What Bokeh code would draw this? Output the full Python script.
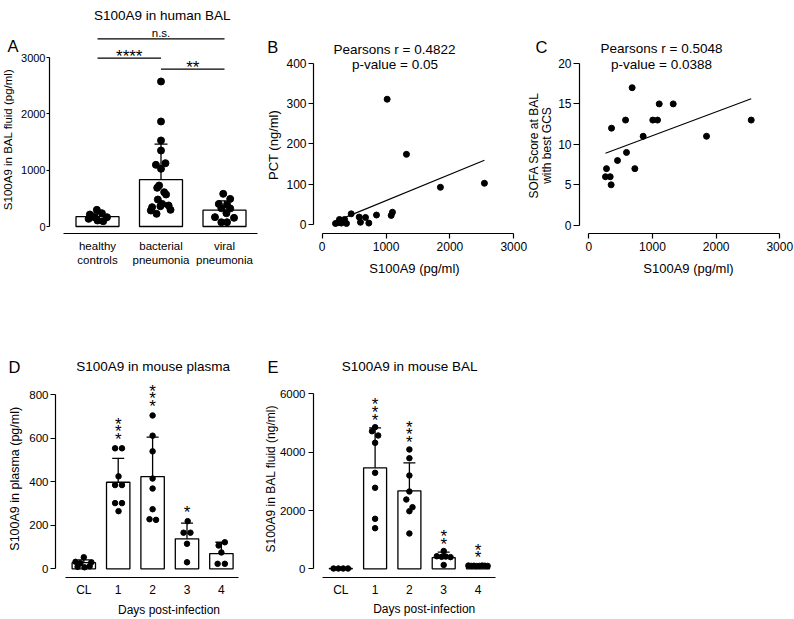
import math
from bokeh.plotting import figure
from bokeh.layouts import column, row
from bokeh.models import FixedTicker, Range1d, GridBox
from bokeh.core.properties import value
from bokeh.embed import file_html
from bokeh.resources import INLINE

FONT = "Liberation Sans"
INK = "#000000"
W_TOT, H_TOT = 794, 619

# ---------------- data ----------------
# Panel A: S100A9 in human BAL (pg/ml)
a_groups = ["healthy\ncontrols", "bacterial\npneumonia", "viral\npneumonia"]
a_mean = [177, 832, 289]
a_sd = [60, 631, 166]
a_healthy = [296, 213, 236, 165, 165, 107, 94, 136]
a_bacterial = [2574, 1864, 1527, 1349, 1124, 1095, 1024, 728, 687, 609, 568,
               479, 400, 373, 360, 343, 296, 284, 225]
a_viral = [580, 490, 400, 385, 325, 320, 236, 166, 154, 76, 76]
a_yticks = [0, 1000, 2000, 3000]
a_br_from = [0, 0, 1]
a_br_to = [2, 1, 2]
a_br_y = [3332, 2988, 2792]
a_br_text = ["n.s.", "****", "**"]

# Panel B: PCT vs S100A9
b_s100a9 = [208, 250, 270, 300, 320, 350, 380, 454, 579, 599, 678, 730, 850,
            1017, 1080, 1100, 1319, 1851, 2540]
b_pct = [2, 4, 12, 3, 8, 12, 2, 26, 18, 5, 17, 3, 23, 311, 22, 30, 174, 92, 102]
b_fit_slope, b_fit_icpt = 0.0651, -6.3
b_stats = ["Pearsons r = 0.4822", "p-value = 0.05"]
b_xticks = [0, 1000, 2000, 3000]
b_yticks = [0, 100, 200, 300, 400]

# Panel C: SOFA vs S100A9
c_s100a9 = [681, 1106, 1326, 577, 1005, 1079, 2551, 357, 854, 1849, 592, 451,
            278, 723, 262, 336, 351]
c_sofa = [17, 15, 15, 13, 13, 13, 13, 12, 11, 11, 9, 8, 7, 7, 6, 6, 5]
c_fit_slope, c_fit_icpt = 0.002943, 8.12
c_stats = ["Pearsons r = 0.5048", "p-value = 0.0388"]
c_xticks = [0, 1000, 2000, 3000]
c_yticks = [0, 5, 10, 15, 20]

# Panel D: S100A9 in mouse plasma (pg/ml)
d_days = ["CL", "1", "2", "3", "4"]
d_mean = [28, 398, 424, 138, 70]
d_sd = [13, 110, 181, 72, 52]
d_cl = [53, 32, 30, 26, 9, 7, 12]
d_day1 = [554, 554, 425, 385, 385, 302, 302, 265]
d_day2 = [705, 612, 540, 415, 369, 274, 228, 225]
d_day3 = [219, 166, 166, 115, 30]
d_day4 = [122, 107, 75, 23, 23]
d_stars = [0, 3, 3, 1, 0]
d_yticks = [0, 200, 400, 600, 800]

# Panel E: S100A9 in mouse BAL (ng/ml)
e_days = ["CL", "1", "2", "3", "4"]
e_mean = [10, 3465, 2676, 385, 125]
e_sd = [0, 1372, 960, 190, 15]
e_cl = [10, 10, 10, 10]
e_day1 = [4858, 4720, 4573, 4322, 3293, 2779, 1715, 1393]
e_day2 = [4093, 3794, 3201, 2652, 2377, 2113, 1976, 1211]
e_day3 = [610, 430, 410, 420, 400, 130]
e_day4 = [110, 100, 105, 95, 100, 110, 105, 100]
e_stars = [0, 3, 3, 2, 2]
e_yticks = [0, 2000, 4000, 6000]

# horizontal scatter of the dots inside each column (category units)
a_dx = [[-0.01, -0.12, 0.07, -0.05, 0.15, 0.0, 0.09, -0.14],
        [0, 0, 0, 0, 0.07, -0.08, 0, -0.03, -0.06, 0.05, 0.08, -0.05, 0.02,
         0.12, -0.01, -0.14, 0.15, -0.16, -0.07],
        [-0.02, 0.09, -0.09, 0.04, -0.05, 0.09, 0.03, -0.15, 0.15, -0.05, 0.04]]
d_dx = [[0, -0.24, 0.22, -0.1, -0.18, 0.02, 0.17],
        [-0.09, 0.11, 0.01, -0.09, 0.11, -0.09, 0.11, 0.01],
        [0, 0, 0, 0, 0, 0, -0.09, 0.1],
        [0.02, -0.1, 0.1, 0, 0],
        [0.1, -0.08, 0, -0.11, 0.1]]
e_dx = [[-0.21, -0.07, 0.07, 0.21],
        [0, -0.09, 0.09, 0, 0, 0, 0, 0],
        [0, 0, 0, 0, -0.09, 0.09, 0, 0],
        [0, -0.2, -0.06, 0.06, 0.2, 0],
        [-0.28, -0.2, -0.12, -0.04, 0.04, 0.12, 0.2, 0.28]]


# ---------------- helpers ----------------
def make_fig(W, H, fl, fr, ft, fb, xanch, yanch):
    xv0, xp0, xv1, xp1 = xanch
    kx = (xp1 - xp0) / (xv1 - xv0)
    yv0, yp0, yv1, yp1 = yanch
    ky = (yp0 - yp1) / (yv1 - yv0)
    xs = xv0 + (fl - xp0) / kx
    xe = xv0 + (fr - xp0) / kx
    ys = yv0 - (fb - yp0) / ky
    ye = yv0 + (yp0 - ft) / ky
    p = figure(width=W, height=H, x_range=Range1d(xs, xe), y_range=Range1d(ys, ye),
               min_border_left=fl, min_border_right=W - fr,
               min_border_top=ft, min_border_bottom=H - fb,
               output_backend="svg", toolbar_location=None, title=None)
    p.outline_line_color = None
    p.xgrid.visible = False
    p.ygrid.visible = False
    p.background_fill_color = "white"
    p.border_fill_color = "white"
    return p


def style_axes(p, xticks, xbounds, yticks, ybounds, tick_px,
               x_out, x_standoff, y_out, y_standoff, xlabels=None, xlabel_px=None):
    xa = p.xaxis[0]
    ya = p.yaxis[0]
    for ax in (xa, ya):
        ax.axis_line_color = INK
        ax.axis_line_width = 1.2
        ax.major_tick_line_color = INK
        ax.major_tick_line_width = 1.2
        ax.minor_tick_line_color = None
        ax.major_tick_in = 0
        ax.major_label_text_font = FONT
        ax.major_label_text_color = INK
        ax.major_label_text_font_size = f"{tick_px}px"
    xa.ticker = FixedTicker(ticks=xticks, minor_ticks=[])
    ya.ticker = FixedTicker(ticks=yticks, minor_ticks=[])
    xa.bounds = xbounds
    ya.bounds = ybounds
    xa.major_tick_out = x_out
    ya.major_tick_out = y_out
    if x_out == 0:
        xa.major_tick_line_color = None
    xa.major_label_standoff = x_standoff
    ya.major_label_standoff = y_standoff
    if xlabels is not None:
        xa.major_label_overrides = {t: l for t, l in zip(xticks, xlabels)}
    if xlabel_px is not None:
        xa.major_label_text_font_size = f"{xlabel_px}px"


def bar_panel(p, means, sds, points, dxs, bar_w, dot_size, cap_size):
    cats = list(range(len(means)))
    p.vbar(x=cats, top=means, bottom=0, width=bar_w, fill_color="white",
           line_color=INK, line_width=1.3)
    ex = [c for c, s in zip(cats, sds) if s > 0]
    e0 = [m for m, s in zip(means, sds) if s > 0]
    e1 = [m + s for m, s in zip(means, sds) if s > 0]
    p.segment(x0=ex, y0=e0, x1=ex, y1=e1, line_color=INK, line_width=1.3)
    p.scatter(x=ex, y=e1, marker="dash", size=cap_size, line_color=INK, line_width=1.3)
    px, py = [], []
    for c, vals, dx in zip(cats, points, dxs):
        for v, d in zip(vals, dx):
            px.append(c + d)
            py.append(v)
    p.scatter(x=px, y=py, size=dot_size, fill_color=INK, line_color=INK)


def add_stars(p, means, sds, points, nstars, base_px, step_px, size):
    xs, ys, offs = [], [], []
    for i, n in enumerate(nstars):
        top = max(max(points[i]), means[i] + sds[i])
        for k in range(n):
            xs.append(i)
            ys.append(top)
            offs.append(-(base_px + k * step_px))
    p.text(x=xs, y=ys, text=["*"] * len(xs), y_offset=offs, text_align="center",
           text_baseline="middle", text_font=value(FONT),
           text_font_size=f"{size}px", text_color=INK)


# ---------------- Panel A ----------------
pA = make_fig(260, 308, 49, 258, 26, 233, (0, 97, 2, 224), (0, 226, 3000, 57))
style_axes(pA, [0, 1, 2], (-0.535, 2.52), a_yticks, (0, 3000), 11,
           0, 6, 3, 1, xlabels=a_groups, xlabel_px=11.5)
bar_panel(pA, a_mean, a_sd, [a_healthy, a_bacterial, a_viral], a_dx, 0.677, 7, 13)
pA.segment(x0=a_br_from, x1=a_br_to, y0=a_br_y, y1=a_br_y, line_color=INK, line_width=1.2)
br_mid = [(f + t) / 2 for f, t in zip(a_br_from, a_br_to)]
pA.text(x=br_mid[:1], y=a_br_y[:1], text=a_br_text[:1], text_align="center",
        text_baseline="bottom", text_font=value(FONT), text_font_size="11.5px",
        text_color=INK)
pA.text(x=br_mid[1:], y=a_br_y[1:], text=a_br_text[1:], text_align="center",
        text_baseline="middle", y_offset=-2, text_font=value(FONT),
        text_font_size="17px", text_color=INK)

# ---------------- Panel B ----------------
pB = make_fig(267, 308, 53, 256, 26, 235, (0, 61.7, 3000, 253.3), (0, 225.7, 400, 63.3))
style_axes(pB, b_xticks, (0, 3000), b_yticks, (0, 400), 12, 5, 3, 5, 2)
bx_line = [min(b_s100a9), max(b_s100a9)]
pB.line(x=bx_line, y=[b_fit_slope * v + b_fit_icpt for v in bx_line], line_color=INK, line_width=1.1)
pB.scatter(x=b_s100a9, y=b_pct, size=6, fill_color=INK, line_color=INK)

# ---------------- Panel C ----------------
pC = make_fig(267, 308, 52, 253, 26, 235, (0, 61.3, 3000, 252.3), (0, 226.7, 20, 63.3))
style_axes(pC, c_xticks, (0, 3000), c_yticks, (0, 20), 12, 5, 3, 6, 2)
cx_line = [min(c_s100a9), max(c_s100a9)]
pC.line(x=cx_line, y=[c_fit_slope * v + c_fit_icpt for v in cx_line], line_color=INK, line_width=1.1)
pC.scatter(x=c_s100a9, y=c_sofa, size=6, fill_color=INK, line_color=INK)

# ---------------- Panel D ----------------
pD = make_fig(260, 311, 55, 241, 40, 269, (0, 83.3, 4, 220.9), (0, 260.3, 800, 86.3))
style_axes(pD, [0, 1, 2, 3, 4], (-0.53, 4.51), d_yticks, (0, 800), 11.5,
           0, 5, 5, 2, xlabels=d_days, xlabel_px=12)
d_points = [d_cl, d_day1, d_day2, d_day3, d_day4]
bar_panel(pD, d_mean, d_sd, d_points, d_dx, 0.68, 5.5, 12)
add_stars(pD, d_mean, d_sd, d_points, d_stars, 9, 7.5, 17)

# ---------------- Panel E ----------------
pE = make_fig(267, 311, 53, 237, 40, 269, (0, 80.3, 4, 217.5), (0, 260.3, 6000, 85.4))
style_axes(pE, [0, 1, 2, 3, 4], (-0.54, 4.51), e_yticks, (0, 6000), 11.5,
           0, 5, 5, 3, xlabels=e_days, xlabel_px=12)
e_points = [e_cl, e_day1, e_day2, e_day3, e_day4]
bar_panel(pE, e_mean, e_sd, e_points, e_dx, 0.67, 5.5, 12)
add_stars(pE, e_mean, e_sd, e_points, e_stars, 7, 7.7, 17)

panels = column(row(pA, pB, pC), row(pD, pE))

# ---------------- text layer (titles, panel letters, axis titles) ----------------
ov = figure(width=W_TOT, height=H_TOT, x_range=Range1d(0, W_TOT), y_range=Range1d(0, H_TOT),
            min_border_left=0, min_border_right=0, min_border_top=0, min_border_bottom=0,
            x_axis_location=None, y_axis_location=None,
            output_backend="svg", toolbar_location=None, title=None)
ov.outline_line_color = None
ov.background_fill_color = None
ov.border_fill_color = None
for g in ov.grid:
    g.visible = False


def ov_text(x, y, txt, size, align="center", baseline="middle", angle=0.0):
    ov.text(x=[x], y=[H_TOT - y], text=[txt], angle=angle, text_align=align,
            text_baseline=baseline, text_font=value(FONT),
            text_font_size=f"{size}px", text_color=INK)


UP = math.pi / 2
# panel A
ov_text(161.7, 15, "S100A9 in human BAL", 13.5, baseline="alphabetic")
ov_text(7, 45, "A", 16.5, align="left", baseline="alphabetic")
ov_text(7.5, 139, "S100A9 in BAL fluid (pg/ml)", 11.5, angle=UP)
# panel B
ov_text(266.7, 46.7, "B", 16.5, align="left", baseline="alphabetic")
ov_text(394, 49, b_stats[0], 13.5)
ov_text(394.5, 64, b_stats[1], 13.5)
ov_text(273, 144.5, "PCT (ng/ml)", 13, angle=UP)
ov_text(414, 268, "S100A9 (pg/ml)", 13)
# panel C
ov_text(535, 46, "C", 16.5, align="left", baseline="alphabetic")
ov_text(661, 48.3, c_stats[0], 13.5)
ov_text(661, 64, c_stats[1], 13.5)
ov_text(533.3, 145, "SOFA Score at BAL", 12, angle=UP)
ov_text(546.7, 145, "with best GCS", 12, angle=UP)
ov_text(688, 268.3, "S100A9 (pg/ml)", 13)
# panel D
ov_text(8, 366.7, "D", 16.5, align="left", baseline="alphabetic")
ov_text(152.7, 366, "S100A9 in mouse plasma", 13.5, baseline="alphabetic")
ov_text(14, 478.3, "S100A9 in plasma (pg/ml)", 12.5, angle=UP)
ov_text(168.5, 609.3, "Days post-infection", 12)
# panel E
ov_text(267, 366.7, "E", 16.5, align="left", baseline="alphabetic")
ov_text(409.2, 366, "S100A9 in mouse BAL", 13.5, baseline="alphabetic")
ov_text(270, 478.3, "S100A9 in BAL fluid (ng/ml)", 12, angle=UP)
ov_text(423.7, 608.3, "Days post-infection", 12)

grid = GridBox(children=[(panels, 0, 0), (ov, 0, 0)])
open("out.html", "w").write(file_html(grid, INLINE))
